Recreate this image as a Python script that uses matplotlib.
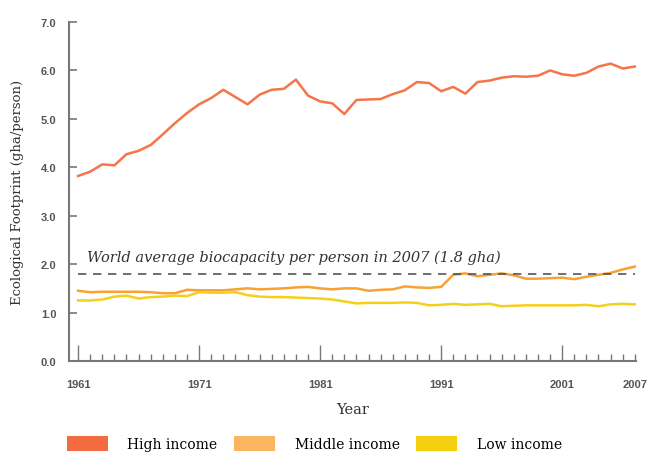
import numpy as np
import matplotlib
matplotlib.use("Agg")
import matplotlib.pyplot as plt
from matplotlib.patches import Patch

years = np.arange(1961, 2008)

high = [3.82, 3.91, 4.06, 4.04, 4.27, 4.34, 4.46, 4.68, 4.91, 5.12,
        5.30, 5.43, 5.60, 5.45, 5.30, 5.50, 5.60, 5.62, 5.81, 5.48,
        5.36, 5.32, 5.10, 5.39, 5.40, 5.41, 5.51, 5.59, 5.76, 5.74,
        5.57, 5.66, 5.52, 5.76, 5.79, 5.85, 5.88, 5.87, 5.89, 6.00,
        5.92, 5.89, 5.95, 6.08, 6.14, 6.04, 6.08]
middle = [1.45, 1.42, 1.43, 1.43, 1.43, 1.43, 1.42, 1.40, 1.40, 1.47,
          1.46, 1.46, 1.46, 1.48, 1.50, 1.48, 1.49, 1.50, 1.52, 1.53,
          1.50, 1.48, 1.50, 1.50, 1.45, 1.47, 1.48, 1.54, 1.52, 1.51,
          1.53, 1.78, 1.81, 1.75, 1.78, 1.81, 1.77, 1.70, 1.70, 1.71,
          1.72, 1.69, 1.74, 1.78, 1.82, 1.89, 1.95]
low = [1.25, 1.25, 1.27, 1.33, 1.35, 1.29, 1.32, 1.33, 1.35, 1.34,
       1.42, 1.41, 1.41, 1.42, 1.36, 1.33, 1.32, 1.32, 1.31, 1.30,
       1.29, 1.27, 1.23, 1.19, 1.20, 1.20, 1.20, 1.21, 1.20, 1.15,
       1.16, 1.18, 1.16, 1.17, 1.18, 1.13, 1.14, 1.15, 1.15, 1.15,
       1.15, 1.15, 1.16, 1.13, 1.17, 1.18, 1.17]
biocap = 1.8

labels = ["High income", "Middle income", "Low income"]
line_cols = ["#F47548", "#F7A232", "#F6CF1A"]
box_cols = ["#F26C40", "#FBB560", "#F5D010"]
x_labels = [1961, 1971, 1981, 1991, 2001, 2007]
y_ticks = [0, 1, 2, 3, 4, 5, 6, 7]

fig = plt.figure(figsize=(6.48, 4.56), dpi=100)
ax = fig.add_axes([0.1065, 0.2061, 0.8750, 0.7435])

for ys, c in zip([high, middle, low], line_cols):
    ax.plot(years, ys, color=c, lw=1.8, solid_joinstyle="round")

ax.plot([years[0], years[-1]], [biocap, biocap], color="#555555", lw=1.2,
        dashes=(5, 4))
ax.text(1961.7, 2.06, "World average biocapacity per person in 2007 (1.8 gha)",
        family="DejaVu Serif", style="italic", fontsize=10.5, color="#333333")

ax.set_xlim(1960.25, 2007.1)
ax.set_ylim(0, 7)
for s in ["top", "right"]:
    ax.spines[s].set_visible(False)
for s in ["left", "bottom"]:
    ax.spines[s].set_color("#777777")
    ax.spines[s].set_linewidth(1.5)

ax.set_xticks(x_labels)
ax.set_xticks(years, minor=True)
ax.tick_params(axis="x", which="major", direction="in", length=11.5, width=1,
               color="#777777", pad=13)
ax.tick_params(axis="x", which="minor", direction="in", length=5, width=1,
               color="#777777")
ax.xaxis.get_major_ticks()[-1].tick1line.set_markersize(5)
ax.set_xticklabels([str(y) for y in x_labels], family="Liberation Sans",
                   fontweight="bold", fontsize=8, color="#555555")

ax.set_yticks(y_ticks)
ax.set_yticklabels(["%.1f" % v for v in y_ticks], family="Liberation Sans",
                   fontweight="bold", fontsize=8, color="#555555")
ax.tick_params(axis="y", direction="in", length=6, width=1.2,
               color="#777777", pad=9)

ax.set_xlabel("Year", family="DejaVu Serif", fontsize=10.5, color="#333333",
              labelpad=9)
ax.set_ylabel("Ecological Footprint (gha/person)", family="DejaVu Serif",
              fontsize=9.5, color="#333333", labelpad=12)

handles = [Patch(facecolor=c, edgecolor="none") for c in box_cols]
fig.legend(handles, labels, loc="upper left",
           bbox_to_anchor=(67 / 648, 1 - 437 / 456), ncol=3, frameon=False,
           prop={"family": "DejaVu Serif", "size": 10},
           handlelength=2.95, handleheight=1.3, handletextpad=1.4,
           columnspacing=1.2, borderpad=0, borderaxespad=0)

fig.savefig("out.png", dpi=100)
